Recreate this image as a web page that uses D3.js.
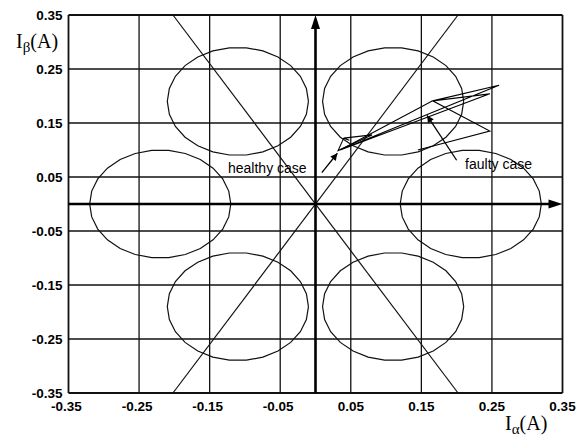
<!DOCTYPE html>
<html>
<head>
<meta charset="utf-8">
<script src="https://cdn.jsdelivr.net/npm/d3@7"></script>
<style>
  body { margin: 0; background: #fff; }
  svg { display: block; }
  .tick-label { font-family: "Liberation Sans", Arial, sans-serif; font-weight: bold; font-size: 13.5px; fill: #000; }
  .note { font-family: "Liberation Sans", Arial, sans-serif; font-size: 14px; fill: #000; }
  .axis-title { font-family: "Liberation Serif", "Times New Roman", serif; font-size: 20px; fill: #000; }
</style>
</head>
<body>
<div id="chart"></div>
<script>
// grid / tick values
var tickValues = [-0.35, -0.25, -0.15, -0.05, 0.05, 0.15, 0.25, 0.35];
var tickLabels = ["-0.35", "-0.25", "-0.15", "-0.05", "0.05", "0.15", "0.25", "0.35"];

// hexagon of current circles (centre x, centre y)
var circleCx = [0.22, 0.11, -0.11, -0.22, -0.11, 0.11];
var circleCy = [0.0, 0.19, 0.19, 0.0, -0.19, -0.19];
var circleR = 0.1;

// sector boundary lines through the origin
var sectorLines = [
    [[-0.202, -0.35], [0.202, 0.35]],
    [[-0.202, 0.35], [0.202, -0.35]]
];

// current trajectories (Ialpha, Ibeta)
var healthyPath = [[0.040, 0.122], [0.032, 0.099], [0.080, 0.128], [0.040, 0.122], [0.048, 0.118]];
var faultyPath = [[0.035, 0.100], [0.166, 0.191], [0.260, 0.220], [0.035, 0.100], [0.247, 0.204],
                  [0.166, 0.191], [0.247, 0.135], [0.145, 0.100]];

// annotations
var notes = [
    {text: "healthy case", x: -0.124, y: 0.057, from: [0.009, 0.058], to: [0.031, 0.094]},
    {text: "faulty case", x: 0.212, y: 0.065, from: [0.200, 0.081], to: [0.158, 0.164]}
];

function init() {
    var w = 585;
    var h = 436;

    var xScale = d3.scaleLinear().domain([-0.35, 0.35]).range([68.5, 562.5]);
    var yScale = d3.scaleLinear().domain([-0.35, 0.35]).range([393, 15]);

    var svg = d3.select("#chart")
        .append("svg")
        .attr("width", w)
        .attr("height", h);

    var line = d3.line()
        .x(function (d) { return xScale(d[0]); })
        .y(function (d) { return yScale(d[1]); });

    //grid lines
    svg.append("g")
        .selectAll("line")
        .data(tickValues)
        .enter()
        .append("line")
        .attr("x1", function (d) { return xScale(d); })
        .attr("x2", function (d) { return xScale(d); })
        .attr("y1", yScale(-0.35))
        .attr("y2", yScale(0.35))
        .attr("stroke", "#111")
        .attr("stroke-width", function (d) { return Math.abs(d) == 0.35 ? 1.8 : 1.3; });

    svg.append("g")
        .selectAll("line")
        .data(tickValues)
        .enter()
        .append("line")
        .attr("y1", function (d) { return yScale(d); })
        .attr("y2", function (d) { return yScale(d); })
        .attr("x1", xScale(-0.35))
        .attr("x2", xScale(0.35))
        .attr("stroke", "#111")
        .attr("stroke-width", function (d) { return Math.abs(d) == 0.35 ? 1.8 : 1.3; });

    //tick labels
    svg.append("g")
        .selectAll("text")
        .data(tickValues)
        .enter()
        .append("text")
        .attr("class", "tick-label")
        .attr("x", xScale(-0.35) - 6)
        .attr("y", function (d) { return yScale(d); })
        .attr("dy", "0.36em")
        .attr("text-anchor", "end")
        .text(function (d, i) { return tickLabels[i]; });

    svg.append("g")
        .selectAll("text")
        .data(tickValues)
        .enter()
        .append("text")
        .attr("class", "tick-label")
        .attr("x", function (d) { return xScale(d) - (d < 0 ? 2 : 0); })
        .attr("y", yScale(-0.35) + 13)
        .attr("dy", "0.36em")
        .attr("text-anchor", "middle")
        .text(function (d, i) { return tickLabels[i]; });

    //circles, drawn as polygons like the original plot
    var nSeg = 26;
    var circles = circleCx.map(function (cx, i) {
        return d3.range(nSeg + 1).map(function (k) {
            var a = 2 * Math.PI * k / nSeg;
            return [cx + circleR * Math.cos(a), circleCy[i] + circleR * Math.sin(a)];
        });
    });

    svg.append("g")
        .selectAll("path")
        .data(circles)
        .enter()
        .append("path")
        .attr("d", line)
        .attr("fill", "none")
        .attr("stroke", "#111")
        .attr("stroke-width", 1.2);

    //sector lines
    svg.append("g")
        .selectAll("path")
        .data(sectorLines)
        .enter()
        .append("path")
        .attr("d", line)
        .attr("fill", "none")
        .attr("stroke", "#111")
        .attr("stroke-width", 1.2);

    //axes with arrows
    svg.append("line")
        .attr("x1", xScale(-0.35)).attr("x2", xScale(0.35) - 10)
        .attr("y1", yScale(0)).attr("y2", yScale(0))
        .attr("stroke", "#000").attr("stroke-width", 2.6);
    svg.append("path")
        .attr("d", "M" + xScale(0.35) + "," + yScale(0) + "L" + (xScale(0.35) - 14) + "," + (yScale(0) - 4.5) +
              "L" + (xScale(0.35) - 14) + "," + (yScale(0) + 4.5) + "Z")
        .attr("fill", "#000");

    svg.append("line")
        .attr("x1", xScale(0)).attr("x2", xScale(0))
        .attr("y1", yScale(-0.35)).attr("y2", yScale(0.35) + 10)
        .attr("stroke", "#000").attr("stroke-width", 2.6);
    svg.append("path")
        .attr("d", "M" + xScale(0) + "," + yScale(0.35) + "L" + (xScale(0) - 4.5) + "," + (yScale(0.35) + 14) +
              "L" + (xScale(0) + 4.5) + "," + (yScale(0.35) + 14) + "Z")
        .attr("fill", "#000");

    //trajectories
    svg.append("path")
        .datum(healthyPath)
        .attr("d", line)
        .attr("fill", "none")
        .attr("stroke", "#000")
        .attr("stroke-width", 1.1);

    svg.append("path")
        .datum(faultyPath)
        .attr("d", line)
        .attr("fill", "none")
        .attr("stroke", "#000")
        .attr("stroke-width", 1.1);

    //annotations
    svg.append("defs").append("marker")
        .attr("id", "head")
        .attr("viewBox", "0 0 10 10")
        .attr("refX", 10).attr("refY", 5)
        .attr("markerWidth", 10).attr("markerHeight", 7)
        .attr("markerUnits", "userSpaceOnUse")
        .attr("orient", "auto")
        .append("path")
        .attr("d", "M0,0L10,5L0,10Z")
        .attr("fill", "#000");

    var ann = svg.append("g").selectAll("g").data(notes).enter().append("g");
    ann.append("line")
        .attr("x1", function (d) { return xScale(d.from[0]); })
        .attr("y1", function (d) { return yScale(d.from[1]); })
        .attr("x2", function (d) { return xScale(d.to[0]); })
        .attr("y2", function (d) { return yScale(d.to[1]); })
        .attr("stroke", "#000")
        .attr("stroke-width", 1.3)
        .attr("marker-end", "url(#head)");
    ann.append("text")
        .attr("class", "note")
        .attr("x", function (d) { return xScale(d.x); })
        .attr("y", function (d) { return yScale(d.y); })
        .text(function (d) { return d.text; });

    //axis titles
    var ty = svg.append("text").attr("class", "axis-title").attr("x", 16).attr("y", 48);
    ty.append("tspan").text("I");
    ty.append("tspan").attr("dy", 4).attr("font-size", "15px").text("\u03b2");
    ty.append("tspan").attr("dy", -4).text("(A)");

    var tx = svg.append("text").attr("class", "axis-title").attr("x", 505).attr("y", 430);
    tx.append("tspan").text("I");
    tx.append("tspan").attr("dy", 4).attr("font-size", "15px").text("\u03b1");
    tx.append("tspan").attr("dy", -4).text("(A)");
}

window.onload = init;
</script>
</body>
</html>
